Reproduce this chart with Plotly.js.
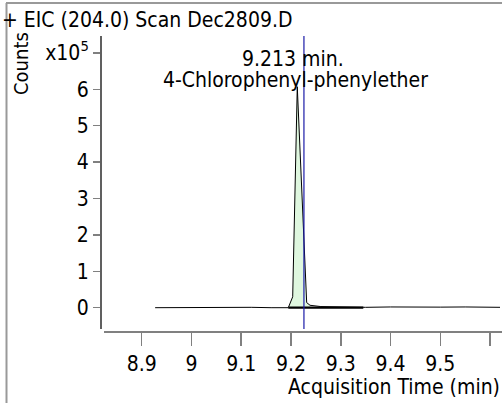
<!DOCTYPE html>
<html>
<head>
<meta charset="utf-8">
<script src="https://cdn.plot.ly/plotly-3.0.1.min.js"></script>
<style>html,body{margin:0;padding:0;background:#fff;}#chart{width:502px;height:403px;}</style>
</head>
<body>
<div id="chart"></div>
<script>
// Chromatogram (time in min, counts in units of 1e5)
var time   = [8.927, 8.98, 9.03, 9.08, 9.12, 9.16, 9.1946, 9.2034, 9.2126, 9.2315, 9.2382, 9.26, 9.30, 9.35, 9.40, 9.45, 9.50, 9.55, 9.62];
var counts = [0.0,   0.005, 0.0, 0.02, 0.01, 0.0, 0.0,    0.30,   6.07,   0.14,   0.066,  0.03, 0.02, 0.01, 0.02, 0.01, 0.015, 0.02, 0.01];
// Integrated peak region
var peakTime   = [9.1946, 9.2034, 9.2126, 9.2315, 9.2382];
var peakCounts = [0.0, 0.30, 6.07, 0.14, 0.066];
// Integration baseline
var baseTime   = [9.1946, 9.3453];
var baseCounts = [0, 0];
// Marker line
var markerTime = 9.226;
// Ticks
var xTicks = [8.9, 9.0, 9.1, 9.2, 9.3, 9.4, 9.5, 9.6];
var xTickText = ['8.9', '9', '9.1', '9.2', '9.3', '9.4', '9.5', ''];
var yTicks = [0, 1, 2, 3, 4, 5, 6, 7];
var yTickText = ['0', '1', '2', '3', '4', '5', '6', 'x10<sup>5</sup>'];
// Texts
var titleText = '+ EIC (204.0) Scan Dec2809.D';
var peakLabel1 = '9.213 min.';
var peakLabel2 = '4-Chlorophenyl-phenylether';
var xTitle = 'Acquisition Time (min)';
var yTitle = 'Counts';

var FONT = "Tahoma, 'DejaVu Sans Condensed', 'DejaVu Sans', sans-serif";
var FS = 21;
var W = 502, H = 403, ML = 101, MR = 0, MT = 36, MB = 71;
var PW = W - ML - MR, PH = H - MT - MB;
function px(x) { return (x - ML) / PW; }
function py(y) { return (H - MB - y) / PH; }

var traces = [
  {x: peakTime, y: peakCounts, type: 'scatter', mode: 'lines', fill: 'tozeroy',
   fillcolor: 'rgb(223,247,223)', line: {color: 'rgba(0,0,0,0)', width: 0}, hoverinfo: 'skip'},
  {x: time, y: counts, type: 'scatter', mode: 'lines', line: {color: '#000', width: 1}},
  {x: baseTime, y: baseCounts, type: 'scatter', mode: 'lines', line: {color: '#000', width: 2.2}}
];

var layout = {
  width: W, height: H,
  margin: {l: ML, r: MR, t: MT, b: MB, pad: 0},
  paper_bgcolor: '#fff', plot_bgcolor: '#fff',
  showlegend: false,
  font: {family: FONT, size: FS, color: '#000'},
  xaxis: {range: [8.8182, 9.624], tickmode: 'array', tickvals: xTicks, ticktext: xTickText,
          ticks: 'outside', ticklen: 13, tickwidth: 1.5, tickcolor: '#808080',
          showline: false, showgrid: false, zeroline: false,
          tickfont: {family: FONT, size: FS, color: '#000'}},
  yaxis: {range: [-0.668, 7.464], tickmode: 'array', tickvals: yTicks, ticktext: yTickText,
          ticks: 'outside', ticklen: 7, tickwidth: 1.5, tickcolor: '#808080',
          showline: false, showgrid: false, zeroline: false,
          tickfont: {family: FONT, size: FS, color: '#000'}},
  shapes: [
    {type: 'line', xref: 'paper', yref: 'paper', x0: px(104), x1: 1, y0: 0, y1: 0,
     line: {color: '#808080', width: 2}},
    {type: 'line', xref: 'paper', yref: 'paper', x0: 0, x1: 0, y0: py(329), y1: 1,
     line: {color: '#606060', width: 2}},
    {type: 'line', xref: 'paper', yref: 'paper', x0: px(6), x1: 1.01, y0: py(3), y1: py(3),
     line: {color: '#999', width: 2}},
    {type: 'line', xref: 'paper', yref: 'paper', x0: px(6.5), x1: px(6.5), y0: py(3), y1: py(405),
     line: {color: '#999', width: 2}},
    {type: 'line', xref: 'x', yref: 'paper', x0: markerTime, x1: markerTime, y0: py(329), y1: 1,
     line: {color: '#1a1aa8', width: 1.2}}
  ],
  annotations: [
    {text: titleText, xref: 'paper', yref: 'paper', x: px(0), y: py(20), xanchor: 'left', yanchor: 'middle',
     showarrow: false, font: {family: FONT, size: FS, color: '#000'}},
    {text: yTitle, xref: 'paper', yref: 'paper', x: px(21), y: py(64), xanchor: 'center', yanchor: 'middle',
     textangle: -90, showarrow: false, font: {family: FONT, size: 20, color: '#000'}},
    {text: peakLabel1, xref: 'paper', yref: 'paper', x: px(293), y: py(59), xanchor: 'center', yanchor: 'middle',
     showarrow: false, font: {family: FONT, size: FS, color: '#000'}},
    {text: peakLabel2, xref: 'paper', yref: 'paper', x: px(295.5), y: py(80), xanchor: 'center', yanchor: 'middle',
     showarrow: false, font: {family: FONT, size: FS, color: '#000'}},
    {text: xTitle, xref: 'paper', yref: 'paper', x: px(502), y: py(387), xanchor: 'right', yanchor: 'middle',
     showarrow: false, font: {family: FONT, size: FS, color: '#000'}}
  ]
};

Plotly.newPlot('chart', traces, layout, {displayModeBar: false, staticPlot: true});
</script>
</body>
</html>
